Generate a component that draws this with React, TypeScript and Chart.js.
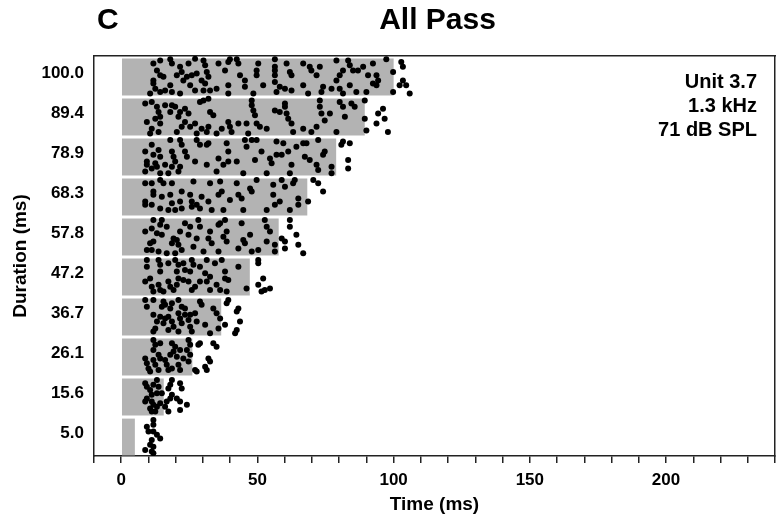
import React, { useEffect, useRef } from 'react';
import { Chart, registerables } from 'chart.js';

Chart.register(...registerables);

// Stimulus durations (ms), bottom row first
const durations = [5.0, 15.6, 26.1, 36.7, 47.2, 57.8, 68.3, 78.9, 89.4, 100.0];

// Spike rasters per duration: [time (ms), trial position within the row (0 = bottom, 1 = top)]
const spikes5 = [
  [11.8, .90], [11.8, .78], [9.4, .73], [10.0, .61], [11.8, .61], [13.1, .53], [14.3, .44], [11.2, .40],
  [10.6, .28], [11.8, .23], [8.8, .15], [11.2, .11], [11.8, .07],
];
const spikes15 = [
  [8.8, .82], [9.4, .73], [10.6, .65], [11.8, .78], [13.1, .90], [13.7, .73], [11.2, .53], [13.1, .57],
  [9.4, .44], [8.8, .36], [11.2, .36], [11.8, .28], [10.6, .19], [11.2, .11], [13.1, .23], [12.5, .11],
  [14.3, .32], [14.9, .57], [18.6, .90], [18.0, .78], [17.3, .69], [21.6, .82], [22.2, .69], [18.6, .53],
  [18.0, .44], [16.7, .36], [16.1, .23], [17.3, .11], [20.4, .44], [21.6, .36], [24.1, .28], [21.6, .15],
];
const spikes26 = [
  [11.8, .90], [12.5, .78], [11.8, .65], [14.3, .82], [18.6, .82], [19.8, .73], [19.2, .61], [18.0, .53],
  [21.6, .65], [24.7, .90], [25.3, .78], [24.1, .65], [25.3, .53], [24.7, .36], [13.7, .53], [14.3, .44],
  [11.8, .40], [8.8, .44], [9.4, .32], [10.0, .19], [10.6, .11], [12.5, .28], [13.7, .15], [16.1, .40],
  [16.7, .28], [17.3, .15], [18.6, .19], [20.4, .48], [21.0, .28], [21.6, .15], [22.8, .44], [27.1, .15],
  [27.7, .11], [28.3, .78], [28.9, .82], [33.8, .82], [35.0, .73], [32.0, .44], [32.6, .36], [30.8, .23],
  [31.4, .15],
];
const spikes36 = [
  [8.8, .90], [11.8, .90], [9.4, .73], [15.5, .86], [14.9, .73], [16.1, .78], [18.6, .82], [18.0, .69],
  [21.0, .90], [22.2, .73], [23.4, .69], [11.8, .53], [14.3, .48], [13.1, .36], [12.5, .19], [11.8, .11],
  [15.5, .32], [16.1, .44], [17.3, .48], [18.6, .36], [19.2, .23], [17.3, .15], [21.0, .57], [21.6, .44],
  [22.2, .32], [23.4, .53], [25.3, .53], [24.7, .40], [25.3, .23], [27.1, .57], [27.7, .36], [28.9, .86],
  [29.5, .78], [30.8, .28], [33.8, .69], [35.0, .57], [36.3, .44], [35.7, .19], [21.0, .11], [25.9, .11],
  [32.6, .07], [38.7, .82], [39.3, .90], [38.1, .28], [43.0, .69], [42.4, .61], [43.6, .36], [42.4, .15],
  [41.8, .07],
];
const spikes47 = [
  [9.4, .90], [9.4, .73], [13.7, .90], [14.3, .78], [14.3, .61], [17.3, .82], [19.8, .90], [21.0, .78],
  [20.4, .61], [22.8, .82], [23.4, .65], [25.9, .90], [26.5, .78], [25.3, .61], [28.9, .73], [31.4, .90],
  [34.4, .82], [36.9, .90], [30.8, .57], [32.6, .48], [38.1, .61], [38.1, .44], [39.3, .40], [43.0, .73],
  [10.6, .44], [8.8, .36], [11.2, .23], [11.8, .11], [14.3, .15], [15.5, .11], [13.7, .28], [17.3, .36],
  [18.0, .23], [19.2, .15], [20.4, .28], [21.0, .44], [22.8, .40], [24.7, .36], [25.9, .15], [27.1, .23],
  [28.9, .36], [31.4, .36], [32.6, .15], [35.0, .28], [36.3, .15], [38.7, .11], [46.0, .19], [50.3, .90],
  [50.3, .82], [50.3, .28], [52.1, .44], [52.7, .15], [54.6, .19], [51.5, .11],
];
const spikes57 = [
  [11.8, .90], [14.9, .90], [14.3, .78], [16.7, .73], [8.8, .61], [11.2, .69], [13.1, .57], [14.9, .53],
  [11.8, .36], [10.6, .32], [9.4, .15], [11.2, .15], [13.7, .11], [16.7, .07], [18.6, .32], [19.2, .44],
  [21.6, .61], [20.4, .40], [21.0, .28], [22.2, .15], [19.8, .07], [23.4, .82], [24.7, .53], [25.3, .73],
  [26.5, .23], [27.7, .44], [28.3, .90], [28.9, .73], [30.2, .11], [32.0, .44], [32.6, .61], [33.2, .32],
  [35.7, .11], [35.7, .78], [36.3, .82], [38.1, .90], [38.7, .61], [37.5, .48], [38.7, .36], [43.0, .19],
  [44.2, .82], [44.8, .40], [47.3, .53], [45.4, .32], [47.9, .11], [50.3, .15], [52.7, .90], [53.4, .73],
  [54.6, .61], [53.4, .36], [56.4, .28], [56.4, .11], [58.9, .44], [60.1, .36], [60.1, .19], [61.9, .90],
  [61.9, .73], [64.3, .53], [65.0, .28], [66.8, .07],
];
const spikes68 = [
  [8.8, .82], [11.2, .82], [14.3, .90], [15.5, .82], [18.6, .82], [11.8, .61], [11.8, .53], [14.9, .48],
  [18.0, .53], [8.8, .36], [8.8, .28], [11.2, .28], [14.3, .19], [17.3, .15], [19.8, .15], [22.2, .19],
  [18.6, .32], [21.6, .36], [22.2, .61], [25.3, .53], [26.5, .86], [25.9, .36], [25.9, .23], [27.7, .28],
  [28.9, .19], [29.5, .48], [32.6, .82], [32.0, .36], [33.2, .15], [36.3, .86], [36.9, .61], [35.7, .53],
  [37.5, .15], [39.9, .40], [42.4, .82], [43.0, .53], [44.2, .44], [44.8, .15], [47.3, .69], [47.9, .61],
  [49.7, .90], [53.4, .15], [55.8, .78], [55.8, .53], [56.4, .28], [58.2, .36], [58.9, .90], [60.1, .73],
  [61.9, .15], [63.7, .90], [63.1, .82], [65.0, .44], [65.0, .28], [68.6, .36], [70.5, .90], [72.3, .82],
  [74.1, .61],
];
const spikes78 = [
  [8.8, .61], [11.2, .78], [11.8, .53], [13.7, .65], [14.3, .48], [9.4, .36], [9.4, .28], [8.8, .11],
  [11.2, .19], [13.1, .23], [14.3, .07], [12.5, .32], [16.1, .28], [17.3, .07], [18.0, .90], [18.6, .61],
  [19.2, .48], [19.8, .36], [18.6, .23], [21.6, .90], [22.2, .78], [23.4, .61], [24.1, .48], [21.0, .11],
  [21.6, .23], [27.1, .36], [27.7, .90], [28.9, .78], [31.4, .78], [32.0, .82], [31.4, .28], [35.7, .44],
  [35.0, .11], [37.5, .28], [39.3, .36], [38.7, .82], [39.3, .61], [42.4, .36], [44.8, .07], [45.4, .90],
  [46.0, .73], [47.9, .90], [49.1, .40], [49.7, .90], [51.5, .61], [54.6, .44], [55.2, .32], [53.4, .07],
  [57.0, .53], [58.9, .53], [57.0, .86], [59.5, .82], [61.3, .61], [62.5, .28], [61.9, .07], [64.3, .73],
  [66.8, .82], [67.4, .48], [68.0, .82], [69.2, .40], [72.3, .90], [71.7, .28], [72.3, .15], [74.1, .53],
  [74.7, .61], [77.2, .07], [77.2, .23], [80.8, .78], [81.4, .86], [83.9, .82], [83.3, .40], [83.3, .19],
];
const spikes89 = [
  [8.8, .81], [11.2, .85], [13.1, .73], [13.7, .60], [14.3, .48], [12.5, .43], [14.3, .31], [9.4, .35],
  [11.2, .18], [13.7, .10], [10.6, .06], [16.1, .77], [18.6, .77], [18.0, .60], [19.8, .73], [21.6, .60],
  [21.0, .48], [23.4, .68], [24.7, .56], [23.4, .35], [22.2, .23], [20.4, .10], [25.3, .23], [27.1, .31],
  [27.7, .06], [28.9, .85], [30.2, .89], [32.0, .93], [32.6, .60], [33.8, .52], [32.0, .23], [29.5, .18],
  [31.4, .10], [35.0, .06], [36.9, .18], [39.3, .35], [39.9, .23], [40.5, .10], [43.0, .31], [46.0, .31],
  [46.6, .06], [47.9, .89], [47.9, .77], [48.5, .64], [49.1, .52], [49.7, .31], [50.9, .23], [53.4, .18],
  [56.4, .64], [58.2, .60], [60.1, .81], [60.1, .73], [61.3, .43], [62.5, .31], [63.1, .10], [60.7, .56],
  [66.8, .18], [69.8, .10], [71.7, .23], [73.5, .56], [72.9, .73], [72.9, .89], [74.7, .39], [76.6, .56],
  [79.0, .10], [80.2, .85], [81.4, .73], [82.1, .48], [84.5, .81], [85.7, .73], [89.4, .89], [89.4, .43],
  [90.0, .14], [94.3, .56], [96.1, .68], [96.7, .43], [97.9, .10], [93.7, .31],
];
const spikes100 = [
  [11.8, .81], [14.3, .89], [18.0, .92], [18.6, .81], [21.6, .73], [24.7, .81], [27.1, .93], [30.2, .89],
  [30.8, .77], [35.7, .81], [39.3, .85], [39.9, .92], [42.4, .92], [43.0, .81], [50.3, .81], [56.4, .92],
  [56.4, .73], [60.7, .81], [66.8, .81], [69.2, .73], [72.9, .73], [79.0, .89], [83.3, .89], [83.9, .77],
  [88.8, .73], [92.4, .81], [97.3, .92], [102.8, .85], [103.4, .73],
  [13.1, .64], [14.3, .52], [11.8, .39], [11.8, .31], [15.5, .48], [20.4, .52], [22.2, .60], [24.1, .48],
  [22.8, .39], [25.9, .52], [27.7, .56], [31.4, .60], [32.0, .48], [30.8, .31], [29.5, .39], [38.1, .64],
  [43.6, .52], [45.4, .39], [49.7, .64], [49.7, .52], [56.4, .64], [56.4, .52], [61.9, .60], [62.5, .52],
  [69.8, .64], [71.7, .52], [79.0, .39], [80.2, .52], [81.4, .64], [85.1, .64], [86.9, .64], [90.6, .52],
  [93.7, .52], [94.3, .39], [92.4, .31], [99.8, .60], [103.4, .39], [104.6, .27], [102.2, .27],
  [10.6, .06], [12.5, .18], [14.3, .10], [16.1, .14], [18.0, .27], [18.6, .10], [21.6, .06], [25.3, .27],
  [27.1, .14], [30.2, .14], [32.6, .14], [35.0, .18], [39.3, .27], [39.3, .06], [45.4, .23], [48.5, .06],
  [52.1, .27], [56.4, .35], [58.2, .23], [57.0, .10], [60.1, .18], [62.5, .14], [66.8, .27], [68.6, .06],
  [73.5, .10], [74.1, .23], [77.2, .18], [80.2, .18], [81.4, .06], [83.9, .27], [86.3, .10], [90.0, .10],
  [93.7, .27], [99.8, .10], [105.9, .06],
];
const spikeRows = [spikes5, spikes15, spikes26, spikes36, spikes47, spikes57, spikes68, spikes78, spikes89, spikes100];

const xTickLabels = [0, 50, 100, 150, 200];
const panelLabel = 'C';
const titleText = 'All Pass';
const infoLines = ['Unit 3.7', '1.3 kHz', '71 dB SPL'];

const FONT = '"Liberation Sans", Arial, Helvetica, sans-serif';
const AXIS_COLOR = '#222';

const textPlugin = {
  id: 'texts',
  afterDraw(chart: any) {
    const ctx = chart.ctx;
    const a = chart.chartArea;
    ctx.save();
    ctx.fillStyle = '#000';
    ctx.textBaseline = 'middle';
    ctx.font = `bold 30px ${FONT}`;
    ctx.textAlign = 'center';
    ctx.fillText(titleText, (a.left + a.right) / 2 + 3, 21);
    ctx.textAlign = 'left';
    ctx.fillText(panelLabel, 97, 21);
    ctx.font = `bold 20px ${FONT}`;
    ctx.textAlign = 'right';
    infoLines.forEach((l: string, i: number) => ctx.fillText(l, 757, 82 + i * 24.3));
    ctx.restore();
  },
};

const frameAxis = (position: string, axis: string, min: number, max: number) => ({
  type: 'linear',
  position,
  axis,
  min,
  max,
  offset: false,
  ticks: { display: false },
  grid: { display: false, drawTicks: false },
  border: { display: true, color: AXIS_COLOR, width: 1.5 },
  afterFit: (s: any) => {
    if (axis === 'x') s.height = 0; else s.width = 0;
    s.paddingLeft = 0; s.paddingRight = 0; s.paddingTop = 0; s.paddingBottom = 0;
  },
});

export default function App() {
  const ref = useRef<HTMLCanvasElement>(null);
  useEffect(() => {
    if (!ref.current) return;
    Chart.defaults.font.family = FONT;
    const barData = durations.map((d, i) => ({ x: d, y: i + 0.475 }));
    const dotData = spikeRows.flatMap((row, i) => row.map(([t, f]) => ({ x: t, y: i + f })));
    const chart = new Chart(ref.current, {
      type: 'scatter',
      data: {
        datasets: [
          {
            type: 'scatter',
            data: dotData,
            pointRadius: 3,
            pointBackgroundColor: '#000',
            pointBorderWidth: 0,
            order: 1,
          } as any,
          {
            type: 'bar',
            indexAxis: 'y',
            data: barData,
            backgroundColor: '#b3b3b3',
            barPercentage: 1,
            categoryPercentage: 0.92,
            order: 2,
          } as any,
        ],
      },
      options: {
        animation: false,
        responsive: false,
        layout: { autoPadding: false, padding: { top: 56, right: 1, left: 0, bottom: 0 } },
        plugins: { legend: { display: false }, tooltip: { enabled: false }, title: { display: false } },
        scales: {
          x: {
            type: 'linear',
            position: 'bottom',
            min: -10,
            max: 240,
            offset: false,
            afterFit: (s: any) => { s.height = 65; s.paddingLeft = 0; s.paddingRight = 0; },
            ticks: {
              stepSize: 10,
              autoSkip: false,
              maxRotation: 0,
              padding: 7,
              color: '#000',
              font: { size: 17, weight: 'bold' },
              callback: (v: any) => (xTickLabels.includes(Number(v)) ? String(v) : ''),
            },
            grid: { display: true, offset: false, drawOnChartArea: false, drawTicks: true, tickLength: 7, color: AXIS_COLOR, lineWidth: 1.5 },
            border: { display: true, color: AXIS_COLOR, width: 1.5 },
            title: { display: true, text: 'Time (ms)', color: '#000', font: { size: 19, weight: 'bold' }, padding: { top: 0, bottom: 5 } },
          },
          y: {
            type: 'linear',
            position: 'left',
            min: 0,
            max: 10,
            offset: false,
            afterFit: (s: any) => { s.width = 94; s.paddingTop = 0; s.paddingBottom = 0; },
            afterBuildTicks: (s: any) => { s.ticks = durations.map((_, i) => ({ value: i + 0.56 })); },
            ticks: {
              autoSkip: false,
              padding: 10,
              color: '#000',
              font: { size: 17, weight: 'bold' },
              callback: (_v: any, idx: number) => durations[idx].toFixed(1),
            },
            grid: { display: false, offset: false, drawTicks: false },
            border: { display: true, color: AXIS_COLOR, width: 1.5 },
            title: { display: true, text: 'Duration (ms)', color: '#000', font: { size: 19, weight: 'bold' }, padding: { top: 9, bottom: 0 } },
          },
          xTop: frameAxis('top', 'x', -10, 240),
          yRight: frameAxis('right', 'y', 0, 10),
        } as any,
      },
      plugins: [textPlugin],
    });
    return () => chart.destroy();
  }, []);
  return (
    <div style={{ position: 'fixed', left: 0, top: 0, width: 776, height: 521, background: '#fff' }}>
      <canvas ref={ref} width={776} height={521} style={{ display: 'block' }} />
    </div>
  );
}
